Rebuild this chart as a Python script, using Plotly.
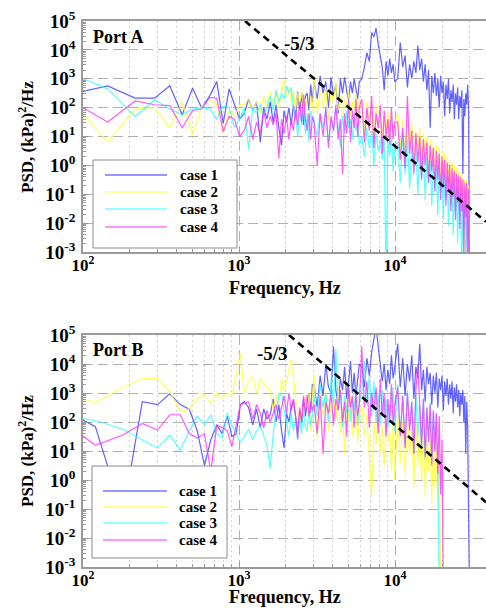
import plotly.graph_objects as go

# ---------------- frequency grids (Hz) ----------------
freq_low_port_a = [72, 144, 216, 288, 360, 432, 504, 576, 648, 720, 792, 864, 936, 1008]
freq_low_port_b = [60, 120, 180, 240, 300, 360, 420, 480, 540, 600, 660, 720, 780, 840, 900, 960, 1020]
freq_mid = [1080, 1152, 1224, 1296, 1368, 1440, 1512, 1584, 1656, 1728, 1800, 1872, 1944, 2016,
            2088, 2160, 2232, 2304, 2376, 2448, 2520, 2592, 2664, 2736, 2808, 2880, 2952]
freq_c = [3024, 3168, 3312, 3456, 3600, 3744, 3888, 4032, 4176, 4320, 4464, 4608, 4752, 4896,
          5040, 5184, 5328, 5472, 5616, 5760, 5904]
freq_d = [6120, 6360, 6600, 6840, 7080, 7320, 7560, 7800, 8040, 8280, 8520, 8760, 9000, 9240,
          9480, 9720, 9960]
freq_e = [10400, 10800, 11200, 11600, 12000, 12400, 12800, 13200, 13600, 14000,
          14400, 14800, 15200, 15600, 16000, 16400, 16800, 17200, 17600, 18000,
          18400, 18800, 19200, 19600, 20000, 20400, 20800, 21200, 21600, 22000,
          22400, 22800, 23200, 23600, 24000, 24400, 24800, 25200, 25600, 26000,
          26400, 26800, 27200, 27600, 28000, 28400, 28800, 29200, 29600, 30000]
freq_port_a = freq_low_port_a + freq_mid + freq_c + freq_d + freq_e
freq_port_b = freq_low_port_b + freq_mid + freq_c + freq_d + freq_e

# ---------------- PSD values, log10((kPa)^2/Hz) ----------------
# Port A
port_a_case1 = ([2.4, 2.75, 2.33, 2.33, 2.76, 1.75, 2.67, 1.99, 2.4, 2.9, 1.45, 2.65, 2.1, 1.6] +
                [1.8, 2.3, 1.9, 2.2, 0.8, 2.0, 1.6, 2.2, 1.5, 2.1, 1.3, 0.7, 1.9, 1.5, 2.0, 1.4,
                 2.1, 1.6, 2.55, 1.9, 2.5, 1.4, 2.4, 2.5, 1.9, 2.8, 2.2] +
                [2.9, 2.3, 3.1, 2.5, 2.9, 2.0, 3.05, 2.4, 2.8, 1.8, 3.0, 2.5, 3.05, 2.6, 2.2, 2.9,
                 2.5, 3.0, 2.6, 2.3, 2.9] +
                [3.0, 3.4, 3.9, 3.6, 4.6, 4.45, 4.75, 4.2, 3.8, 3.4, 2.6, 3.6, 3.1, 3.7, 3.2, 3.5, 2.9] +
                [3.0, 4.25, 3.4, 3.8, 2.7, 3.5, 3.0, 3.6, 3.2, 4.15,
                 3.3, 3.7, 2.9, 3.5, 2.6, 3.3, 1.3, 3.1, 2.5, 3.2,
                 2.4, 3.0, 2.0, 3.1, 2.5, 2.9, 1.7, 2.8, 2.3, 3.0,
                 1.8, 2.6, 2.2, 2.8, 1.6, 2.5, 2.1, 2.7, 1.6, 2.4,
                 2.0, 2.6, -0.3, 2.3, 1.7, 2.5, 2.1, 2.8, 1.9, -4])
port_a_case2 = ([2.6, 0.82, 1.95, 2.02, 1.3, 2.21, 1.06, 2.04, 2.25, 2.1, 1.1, 1.9, 1.7, 2.1] +
                [2.1, 2.3, 1.9, 2.2, 1.8, 2.4, 2.0, 2.55, 2.1, 2.55, 2.0, 2.5, 2.96, 2.4, 2.7, 2.2,
                 2.6, 1.9, 2.5, 2.1, 2.6, 1.8, 2.3, 2.0, 1.6, 2.4, 1.9] +
                [3.1, 1.8, 2.6, 2.0, 2.7, 1.5, 2.5, 2.2, 2.9, 1.9, 2.4, 1.4, 2.3, 2.0, 2.6, 1.7,
                 2.2, 1.9, 2.5, 1.5, 2.3] +
                [2.0, 1.2, 2.2, 1.5, 1.9, 0.9, 2.1, 1.4, 1.8, 1.0, 1.7, 1.2, 1.9, 0.8, 1.6, 1.1, 1.5] +
                [1.8, 0.5, 1.6, 0.2, 1.4, 0.7, 1.5, 0.0, 1.2, 0.4,
                 1.3, -0.2, 1.1, 0.3, 1.0, -0.4, 0.9, 0.0, 0.8, -0.6,
                 0.7, -0.2, 0.6, -0.9, 0.5, -0.4, 0.4, -1.1, 0.3, -0.6,
                 0.2, -1.3, 0.1, -0.8, 0.0, -1.6, -0.1, -1.0, -0.2, -1.9,
                 -0.3, -1.2, -0.4, -4, -0.5, -1.5, -0.5, -2.4, -0.7, -4])
port_a_case3 = ([3.32, 2.65, 1.69, 2.27, 1.95, 1.75, 1.95, 2.0, 1.95, 1.6, 2.05, 2.0, 1.3, 1.6] +
                [2.0, 0.55, 2.0, 1.8, 2.1, 1.7, 2.0, 2.4, 1.9, 2.6, 2.2, 2.5, 2.3, 2.75, 2.5, 2.7,
                 2.0, 1.7, 1.0, 1.9, 1.4, 2.0, 1.1, 1.8, 0.8, 1.9, 1.6] +
                [1.6, 1.0, 1.8, 1.3, 1.9, 0.8, 1.6, 1.2, 2.0, 1.4, 0.6, 1.7, 1.1, 1.9, 1.3, 1.6,
                 0.9, 1.8, 1.2, 1.5, 0.7] +
                [1.0, 0.3, 1.3, 0.6, 1.2, 0.0, 1.1, 0.5, 0.9, 0.2, 1.0, -4, 0.8, 0.3, 1.0, -0.2, 0.7] +
                [0.8, -0.6, 1.1, -0.3, 0.9, -0.8, 0.7, 0.0, 0.6, -1.0,
                 0.5, -0.4, 0.4, -1.2, 0.3, -0.6, 0.2, -1.4, 0.1, -0.8,
                 0.0, -1.7, -0.1, -1.0, -0.2, -1.9, -0.3, -1.2, -0.4, -2.1,
                 -0.5, -1.4, -0.6, -2.4, -0.7, -1.6, -0.8, -2.7, -0.9, -1.8,
                 -1.0, -4, -1.1, -2.2, -1.2, -4, -1.3, -2.6, -1.4, -4])
port_a_case4 = ([2.45, 1.5, 2.23, 2.1, 2.07, 1.3, 1.9, 1.95, 2.35, 2.33, 1.17, 1.7, 1.6, 1.0] +
                [1.2, 1.7, 0.9, 1.5, 1.1, 1.9, 1.3, 1.7, 1.4, 1.8, 0.25, 1.6, 1.1, 1.7, 0.9, 1.6,
                 1.2, 1.9, 1.4, 2.2, 1.5, 2.45, 1.6, 1.2, 1.8, 0.9, 1.7] +
                [1.5, 0.0, 1.8, 1.0, 2.0, 0.6, 1.7, 1.2, 2.1, 0.9, 1.6, -0.3, 1.8, 1.1, 2.2, 0.8,
                 1.9, 1.3, 2.3, 1.0, 2.0] +
                [2.3, 0.8, 2.0, 1.2, 2.4, 0.6, 1.8, 1.3, 2.1, 0.4, 1.9, 1.0, 1.6, 0.7, 2.0, 0.9, 1.5] +
                [1.5, 0.2, 1.3, -0.1, 2.4, 0.4, 1.2, -0.3, 1.1, 0.1,
                 1.0, -0.5, 0.9, 0.0, 0.8, -0.6, 0.7, -0.2, 0.6, -0.9,
                 0.5, -0.5, 0.4, -1.2, 0.3, -0.7, 0.2, -1.4, 0.1, -0.9,
                 0.0, -1.6, -0.1, -1.1, -0.2, -1.9, -0.3, -1.3, -0.35, -2.2,
                 -0.4, -1.6, -0.5, -3.0, -0.6, -1.8, -0.6, -4, -0.8, -4])

# Port B
port_b_case1 = ([2.71, 1.84, -1.2, 2.7, 2.6, 2.97, 2.6, 2.44, 1.7, 0.5, 1.4, 1.9, 1.6, 2.2, 1.5, 1.6, 2.6] +
                [2.7, 2.5, 1.9, 2.45, 1.8, 2.45, 2.1, 2.25, 2.8, 2.0, 2.6, 1.7, 1.1, 2.3, 2.0, 2.5,
                 2.75, 2.2, 1.6, 2.4, 2.0, 2.8, 2.2, 2.6, 3.0, 2.3, 3.3] +
                [3.3, 2.5, 3.6, 2.9, 4.0, 3.2, 3.0, 4.6, 3.1, 2.6, 3.5, 3.1, 3.9, 2.8, 3.4, 4.1,
                 3.0, 3.7, 2.9, 3.5, 4.0] +
                [3.9, 3.2, 4.2, 3.6, 4.4, 4.9, 5.3, 4.6, 3.9, 3.4, 4.0, 3.1, 3.8, 3.3, 4.3, 3.5, 3.9] +
                [4.7, 3.2, 4.2, 2.9, 4.0, 3.4, 4.3, 2.8, 3.9, 3.5,
                 4.7, 3.1, 3.8, 2.7, 3.9, 3.3, 3.7, 2.6, 3.6, 3.0,
                 3.7, 2.5, 3.5, 3.1, 3.6, 2.4, 3.4, 2.9, 3.5, 2.6,
                 3.3, 2.8, 3.4, 2.3, 3.2, 2.7, 3.3, 2.5, 3.1, 2.2,
                 3.0, 2.6, 3.1, 2.0, 2.9, 0.9, 2.7, 1.8, -1.2, -4])
port_b_case2 = ([3.21, 2.66, 3.2, 3.5, 3.5, 3.05, 2.36, 2.45, 2.8, 2.95, 2.64, 3.0, 2.8, 3.0, 2.9, 3.6, 4.38] +
                [3.0, 3.4, 3.56, 3.0, 3.5, 3.3, 3.2, 3.1, 2.4, 2.9, 2.6, 3.5, 3.1, 3.4, 3.8, 4.15,
                 3.6, 2.8, 2.4, 2.0, 2.6, 2.2, 2.9, 2.5, 3.0, 1.7, 2.8] +
                [3.6, 1.4, 2.9, 2.2, 3.1, 1.7, 2.6, 2.9, 2.0, 3.2, 1.6, 2.5, 0.9, 2.7, 2.1, 2.9,
                 1.5, 2.4, 2.8, 1.2, 2.3] +
                [2.6, 1.5, 2.3, 0.8, -0.6, 2.0, 1.2, 2.4, 0.9, 1.9, 0.5, 2.1, 1.3, 1.7, 0.3, 2.0, 0.0] +
                [2.3, 0.6, 2.0, 0.2, 2.2, 0.9, 1.8, -0.3, 2.1, 0.5,
                 1.7, 0.0, 1.9, -0.6, 1.6, 0.3, 1.8, -0.8, 1.5, -0.2,
                 1.4, -1.0, 1.2, -4] + [None] * 26)
port_b_case3 = ([2.32, 2.05, 1.75, 1.4, 1.1, 1.55, 1.03, 1.7, 2.2, 1.9, 2.25, 1.6, 1.45, 2.3, 1.9, 1.6, 1.3] +
                [1.5, 1.75, 1.4, 1.7, 1.85, 1.5, 1.2, 0.4, 1.6, 2.4, 2.9, 3.0, 2.4, 2.0, 1.5, 2.3,
                 1.7, 2.0, 1.4, 2.1, 1.6, 2.5, 1.8, 1.7, 2.4, 1.9, 2.2] +
                [2.9, 2.2, 3.3, 2.5, 3.0, 2.0, 3.5, 2.6, 4.5, 2.4, 3.1, 1.8, 2.9, 2.3, 3.3, 2.0,
                 2.8, 2.4, 3.2, 1.9, 2.7] +
                [3.0, 4.1, 2.6, 3.6, 2.2, 3.4, 2.0, 3.0, 1.9, 3.1, 2.3, 2.8, 1.8, 2.6, 2.2, 3.2, 1.7] +
                [3.3, 1.6, 2.9, 1.2, 3.1, 1.8, 2.7, 0.9, 3.0, 1.5,
                 2.6, 1.1, 2.8, 0.7, 2.5, 1.4, 2.7, 0.8, 2.4, 1.0,
                 2.3, 0.4, -4] + [None] * 27)
port_b_case4 = ([2.42, 1.2, 1.55, 1.95, 1.72, 2.25, 2.25, 1.6, 1.45, 1.6, 0.3, 1.9, 1.8, 1.7, 1.15, 1.9, 2.6] +
                [2.65, 2.7, 2.1, 2.6, 2.3, 1.8, 2.4, 2.0, 2.3, 2.6, 2.1, 2.5, 2.9, 2.3, 3.0, 2.4,
                 2.8, 2.2, 1.4, 2.5, 2.0, 2.9, 2.3, 2.95, 2.2, 2.7, 2.4] +
                [2.6, 1.6, 2.9, 0.9, 2.7, 2.3, 3.0, 1.9, 2.8, 2.4, 3.1, 2.0, 2.7, 1.5, 3.2, 2.5,
                 2.9, 1.8, 3.0, 2.2, 2.6] +
                [4.6, 2.5, 3.4, 1.8, 3.0, 2.4, 3.2, 1.6, 3.5, 2.2, 3.0, 1.5, 2.8, 2.0, 3.3, 1.9, 2.6] +
                [3.2, 1.5, 2.9, 1.1, 3.0, 1.7, 2.7, 0.9, 3.1, 4.0,
                 2.6, 1.2, 2.8, 0.8, 2.5, 1.3, 2.6, 0.5, 2.4, 1.0,
                 2.3, 0.2, 2.2, -0.5, 1.4, -4] + [None] * 24)

# -5/3 guide lines (end points)
guide_freq_a = [1092, 38300]
guide_psd_a = [1e5, 10 ** -1.955]
guide_freq_b = [2090, 38300]
guide_psd_b = [1e5, 10 ** -0.77]

case_names = ["case 1", "case 2", "case 3", "case 4"]
case_colors = ["rgb(60,60,255)", "rgb(255,255,50)", "rgb(50,255,255)", "rgb(255,50,255)"]
legend_colors = ["rgb(150,150,255)", "rgb(255,255,150)", "rgb(150,255,255)", "rgb(255,150,255)"]
panel_titles = ["Port A", "Port B"]

x_tick_vals = [1e2, 1e3, 1e4]
x_tick_text = ["10<sup>2</sup>", "10<sup>3</sup>", "10<sup>4</sup>"]
y_tick_vals = [1e-3, 1e-2, 1e-1, 1e0, 1e1, 1e2, 1e3, 1e4, 1e5]
y_tick_text = ["10<sup>-3</sup>", "10<sup>-2</sup>", "10<sup>-1</sup>", "10<sup>0</sup>", "10<sup>1</sup>",
               "10<sup>2</sup>", "10<sup>3</sup>", "10<sup>4</sup>", "10<sup>5</sup>"]
x_minor_vals = [m * 10 ** e for e in (2, 3, 4) for m in range(2, 10)]
y_minor_vals = [m * 10.0 ** e for e in range(-3, 5) for m in range(2, 10)]

for arr in (port_a_case1, port_a_case2, port_a_case3, port_a_case4):
    assert len(arr) == len(freq_port_a), len(arr)
for arr in (port_b_case1, port_b_case2, port_b_case3, port_b_case4):
    assert len(arr) == len(freq_port_b), len(arr)


def to_psd(logs):
    return [None if v is None else 10 ** v for v in logs]


# ---------------- figure geometry (pixels) ----------------
W, H = 486, 608
ML, MR, MT, MB = 83, 0, 21, 41
PW, PH = W - ML - MR, H - MT - MB


def px_x(px):
    return (px - ML) / PW


def px_y(py):
    return (H - MB - py) / PH


fig = go.Figure()

panels = [("x", "y", freq_port_a, [port_a_case1, port_a_case2, port_a_case3, port_a_case4],
           guide_freq_a, guide_psd_a),
          ("x2", "y2", freq_port_b, [port_b_case1, port_b_case2, port_b_case3, port_b_case4],
           guide_freq_b, guide_psd_b)]

for xa, ya, fr, series, gf, gp in panels:
    for name, color, logs in zip(case_names, case_colors, series):
        fig.add_trace(go.Scatter(x=fr, y=to_psd(logs), mode="lines", name=name,
                                 line=dict(color=color, width=1.2), opacity=0.8,
                                 xaxis=xa, yaxis=ya, showlegend=False))
    fig.add_trace(go.Scatter(x=gf, y=gp, mode="lines", line=dict(color="black", width=2.6, dash="7px,5px"),
                             xaxis=xa, yaxis=ya, showlegend=False, hoverinfo="skip"))

SERIF = "Liberation Serif"
frame_col = "#9a9a9a"
y_tick_font = dict(family=SERIF, size=19, color="black", weight="bold")
x_tick_font = dict(family=SERIF, size=17, color="black", weight="bold")

ax_x = dict(type="log", range=[2, 4.583], tickmode="array", tickvals=x_tick_vals, ticktext=x_tick_text,
            tickfont=x_tick_font, showline=True, linecolor=frame_col, linewidth=1.5, mirror=True,
            ticks="inside", ticklen=5, tickcolor=frame_col,
            showgrid=True, gridcolor="#b0b0b0", griddash="10px,5px", gridwidth=1.2,
            minor=dict(tickmode="array", tickvals=x_minor_vals, ticks="inside", ticklen=3, tickcolor=frame_col,
                       showgrid=True, gridcolor="#d2d2d2", griddash="2px,3px", gridwidth=1),
            zeroline=False, ticklabelstandoff=-3)
ax_y = dict(type="log", range=[-3, 5], tickmode="array", tickvals=y_tick_vals, ticktext=y_tick_text,
            tickfont=y_tick_font, showline=True, linecolor=frame_col, linewidth=1.5, mirror=False,
            ticks="inside", ticklen=5, tickcolor=frame_col,
            showgrid=True, gridcolor="#b0b0b0", griddash="10px,5px", gridwidth=1.2,
            minor=dict(tickmode="array", tickvals=y_minor_vals, ticks="inside", ticklen=3, tickcolor=frame_col,
                       showgrid=False),
            zeroline=False, ticklabelstandoff=2)

fig.update_layout(
    width=W, height=H, margin=dict(l=ML, r=MR, t=MT, b=MB),
    paper_bgcolor="white", plot_bgcolor="white", showlegend=False,
    xaxis=dict(domain=[0, 1], anchor="y", **ax_x),
    yaxis=dict(domain=[px_y(252), 1], anchor="x", **ax_y),
    xaxis2=dict(domain=[0, 1], anchor="y2", **ax_x),
    yaxis2=dict(domain=[0, px_y(335)], anchor="x2", **ax_y),
)

annotations = []
shapes = []
label_font = dict(family=SERIF, size=18, color="black", weight="bold")
# axis titles
for cy_title, cy_ytitle in ((288, 137), (597, 451)):
    annotations.append(dict(text="Frequency, Hz", x=0.5, y=px_y(cy_title), xref="paper", yref="paper",
                            xanchor="center", yanchor="middle", showarrow=False, font=label_font))
    annotations.append(dict(text="PSD, (kPa)<sup>2</sup>/Hz", x=px_x(26), y=px_y(cy_ytitle), xref="paper",
                            yref="paper", xanchor="center", yanchor="middle", textangle=-90,
                            showarrow=False, font=dict(family=SERIF, size=17, color="black", weight="bold")))
# panel titles and slope labels
for title, ty, (sx, sy) in zip(panel_titles, (37, 350), ((299, 44), (272, 353))):
    annotations.append(dict(text=title, x=px_x(91), y=px_y(ty), xref="paper", yref="paper",
                            xanchor="left", yanchor="middle", showarrow=False,
                            font=dict(family=SERIF, size=18, color="black", weight="bold")))
    annotations.append(dict(text="-5/3", x=px_x(sx), y=px_y(sy), xref="paper", yref="paper",
                            xanchor="center", yanchor="middle", showarrow=False,
                            font=dict(family=SERIF, size=19, color="black", weight="bold")))

# legends (one per panel)
legend_boxes = [((93, 237, 160, 248), (175, 192, 209, 227), (105, 167, 178)),
                ((92, 227, 466, 558), (491, 507, 523, 540), (103, 167, 177))]
for (bx0, bx1, by0, by1), rows, (lx0, lx1, tx) in legend_boxes:
    shapes.append(dict(type="rect", xref="paper", yref="paper", x0=px_x(bx0), x1=px_x(bx1),
                       y0=px_y(by1), y1=px_y(by0), fillcolor="white", line=dict(color="#8a8a8a", width=1),
                       layer="above"))
    for name, col, ry in zip(case_names, legend_colors, rows):
        shapes.append(dict(type="line", xref="paper", yref="paper", x0=px_x(lx0), x1=px_x(lx1),
                           y0=px_y(ry), y1=px_y(ry), line=dict(color=col, width=2), layer="above"))
        annotations.append(dict(text=name, x=px_x(tx), y=px_y(ry), xref="paper", yref="paper",
                                xanchor="left", yanchor="middle", showarrow=False,
                                font=dict(family=SERIF, size=15, color="black", weight="bold")))

fig.update_layout(annotations=annotations, shapes=shapes)
fig.write_html("out.html", config={"displayModeBar": False},
               post_script="document.body.style.margin='0px';document.body.style.overflow='hidden';")
